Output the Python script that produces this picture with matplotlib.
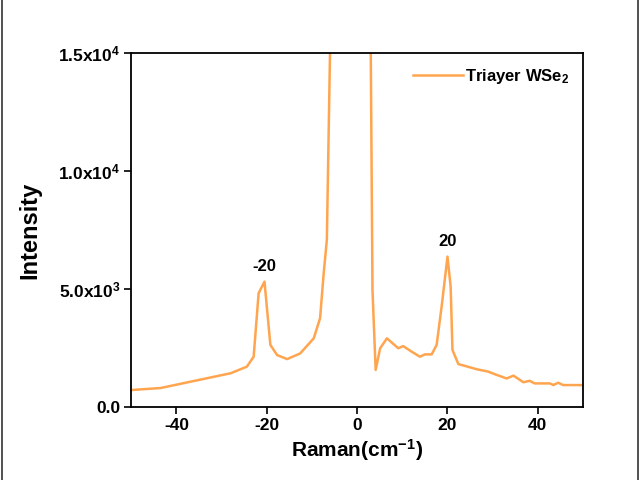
import numpy as np
import matplotlib.pyplot as plt
from matplotlib.lines import Line2D

plt.rcParams['font.family'] = ['Liberation Sans', 'DejaVu Sans']
plt.rcParams['mathtext.fontset'] = 'custom'
plt.rcParams['mathtext.rm'] = 'Liberation Sans:bold'
plt.rcParams['mathtext.bf'] = 'Liberation Sans:bold'
plt.rcParams['mathtext.it'] = 'Liberation Sans:bold'
plt.rcParams['mathtext.sf'] = 'Liberation Sans:bold'
plt.rcParams['mathtext.default'] = 'bf'

# Raman shift (cm-1) and intensity
shift = [-50.0, -43.5, -31.0, -28.0, -24.4, -22.9, -21.8, -20.5, -19.2, -17.7,
         -15.5, -12.6, -9.6, -8.2, -7.4, -6.7, -6.0, -3.0, 0.0, 1.7,
         3.4, 4.1, 5.1, 6.6, 9.1, 10.2, 11.7, 13.9, 15.0, 16.5,
         17.6, 18.7, 20.0, 20.7, 21.1, 22.4, 26.5, 29.0, 30.9, 33.1,
         34.6, 36.8, 38.2, 39.3, 42.7, 43.4, 44.5, 45.6, 50.0]
intensity = [720, 805, 1310, 1430, 1710, 2130, 4820, 5310, 2630, 2200,
             2030, 2270, 2910, 3760, 5660, 7080, 15000, 50000, 60000, 50000,
             4960, 1570, 2490, 2910, 2490, 2580, 2390, 2130, 2230, 2230,
             2630, 4250, 6370, 5100, 2420, 1820, 1600, 1500, 1360, 1210,
             1330, 1050, 1110, 1000, 1000, 930, 1030, 930, 930]

yticks = [0, 5000, 10000, 15000]
ylabels = ['0.0', r'$\mathbf{5.0x10^3}$', r'$\mathbf{1.0x10^4}$', r'$\mathbf{1.5x10^4}$']
xticks = [-40, -20, 0, 20, 40]

fig = plt.figure(figsize=(6.4, 4.8), dpi=100)
ax = fig.add_axes([0.205, 0.152, 0.706, 0.738])

ax.plot(shift, intensity, color='#FFA54F', lw=1.8, label=r'Triayer WSe$_\mathbf{2}$')

ax.set_xlim(-50, 50)
ax.set_ylim(0, 15000)
ax.set_xticks(xticks)
ax.set_xticklabels([str(t) for t in xticks])
ax.set_yticks(yticks)
ax.set_yticklabels(ylabels)
ax.tick_params(direction='out', length=5, width=1.2, labelsize=12.5, pad=3)
for lab in ax.get_xticklabels() + ax.get_yticklabels():
    lab.set_fontweight('bold')
for s in ax.spines.values():
    s.set_linewidth(1.3)

ax.set_xlabel('Raman(cm$^{\\mathbf{-1}}$)', fontsize=15, fontweight='bold', labelpad=3)
ax.set_ylabel('Intensity', fontsize=17, fontweight='bold', labelpad=12)

ax.text(-20.5, 5650, '-20', ha='center', va='bottom', fontsize=12, fontweight='bold')
ax.text(20.0, 6700, '20', ha='center', va='bottom', fontsize=12, fontweight='bold')

leg = ax.legend(loc='upper right', frameon=False, fontsize=12, handlelength=3.0,
                handletextpad=0.1, borderaxespad=0.45)
for t in leg.get_texts():
    t.set_fontweight('bold')

# outer frame edges of the original image
fig.add_artist(Line2D([0.003, 0.003], [0, 1], transform=fig.transFigure, color='#333333', lw=1.2))
fig.add_artist(Line2D([0.997, 0.997], [0, 1], transform=fig.transFigure, color='#333333', lw=1.2))

fig.savefig('out.png', dpi=100)
